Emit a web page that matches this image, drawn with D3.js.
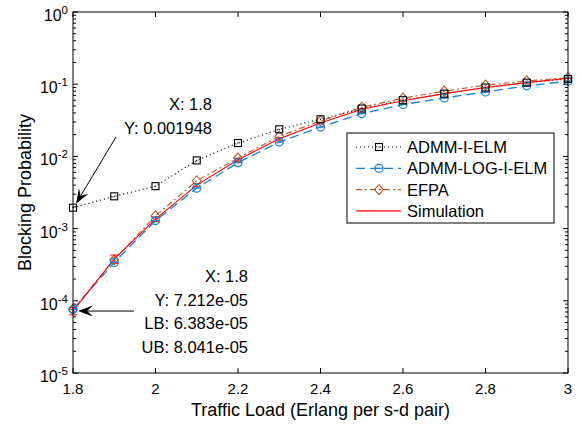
<!DOCTYPE html>
<html lang="en">
<head>
<meta charset="UTF-8">
<title>Blocking Probability</title>
<style>
  * { margin: 0; padding: 0; box-sizing: border-box; }
  body { background: #fff; font-family: "Liberation Sans", Arial, sans-serif; }
  svg text { fill: #000; }
</style>
</head>
<body>
<div id="chart"></div>
<script src="https://d3js.org/d3.v7.min.js"></script>
<script>
// data
var loads = [1.8, 1.9, 2.0, 2.1, 2.2, 2.3, 2.4, 2.5, 2.6, 2.7, 2.8, 2.9, 3.0];
var admmElm = [0.001948, 0.0028, 0.00387, 0.0088, 0.0153, 0.0237, 0.0327, 0.046, 0.060, 0.074, 0.090, 0.105, 0.118];
var admmLogElm = [7.6e-5, 3.4e-4, 1.29e-3, 3.63e-3, 8.2e-3, 0.0158, 0.0255, 0.0392, 0.0523, 0.0645, 0.078, 0.095, 0.110];
var efpa = [7.6e-5, 3.7e-4, 1.5e-3, 4.6e-3, 9.5e-3, 0.019, 0.031, 0.048, 0.064, 0.080, 0.097, 0.111, 0.123];
var simulation = [7.212e-5, 3.8e-4, 1.35e-3, 4.0e-3, 9.0e-3, 0.0175, 0.029, 0.045, 0.059, 0.074, 0.090, 0.105, 0.121];
var simLow = [6.383e-5, 3.3e-4, 1.25e-3, 3.8e-3, 8.6e-3, 0.0169, 0.0283, 0.0442, 0.058, 0.073, 0.089, 0.104, 0.120];
var simHigh = [8.041e-5, 4.3e-4, 1.45e-3, 4.2e-3, 9.4e-3, 0.0181, 0.0297, 0.0458, 0.060, 0.075, 0.091, 0.106, 0.122];
var xTicks = [1.8, 2, 2.2, 2.4, 2.6, 2.8, 3];
var yTicks = [1e-5, 1e-4, 1e-3, 1e-2, 1e-1, 1];
var yExponents = [-5, -4, -3, -2, -1, 0];

var W = 582, H = 424;
var margin = {top: 12, right: 14, bottom: 51, left: 73};
var width = W - margin.left - margin.right;
var height = H - margin.top - margin.bottom;

var svg = d3.select("#chart").append("svg")
    .attr("width", W).attr("height", H)
    .style("font-family", "'Liberation Sans', Arial, sans-serif");

var g = svg.append("g")
    .attr("transform", "translate(" + margin.left + "," + margin.top + ")");

var x = d3.scaleLinear().domain([1.8, 3]).range([0, width]);
var y = d3.scaleLog().domain([1e-5, 1]).range([height, 0]);

// minor log ticks
var minor = [];
for (var e = -5; e < 0; e++) {
  for (var m = 2; m <= 9; m++) minor.push(m * Math.pow(10, e));
}

// ticks (inside, on all four sides)
var tickG = g.append("g").attr("stroke", "#000").attr("stroke-width", 1);
xTicks.forEach(function(t) {
  tickG.append("line").attr("x1", x(t)).attr("x2", x(t)).attr("y1", height).attr("y2", height - 5);
  tickG.append("line").attr("x1", x(t)).attr("x2", x(t)).attr("y1", 0).attr("y2", 5);
});
yTicks.forEach(function(t) {
  tickG.append("line").attr("x1", 0).attr("x2", 5).attr("y1", y(t)).attr("y2", y(t));
  tickG.append("line").attr("x1", width).attr("x2", width - 5).attr("y1", y(t)).attr("y2", y(t));
});
minor.forEach(function(t) {
  tickG.append("line").attr("x1", 0).attr("x2", 3).attr("y1", y(t)).attr("y2", y(t));
  tickG.append("line").attr("x1", width).attr("x2", width - 3).attr("y1", y(t)).attr("y2", y(t));
});

// tick labels
g.selectAll(".xlab").data(xTicks).enter().append("text")
    .attr("x", function(d) { return x(d); })
    .attr("y", height + 21)
    .attr("text-anchor", "middle")
    .style("font-size", "15px")
    .text(function(d) { return d; });

var ylab = g.selectAll(".ylab").data(yTicks).enter().append("text")
    .attr("x", -5)
    .attr("y", function(d) { return y(d) + 9; })
    .attr("text-anchor", "end")
    .style("font-size", "16px");
ylab.append("tspan").text("10");
ylab.append("tspan").attr("dy", -7).style("font-size", "11.5px")
    .text(function(d, i) { return yExponents[i] === 0 ? "0" : "-" + Math.abs(yExponents[i]); });

// axis titles
svg.append("text")
    .attr("x", margin.left + width / 2)
    .attr("y", 416)
    .attr("text-anchor", "middle")
    .style("font-size", "18px")
    .text("Traffic Load (Erlang per s-d pair)");
svg.append("text")
    .attr("transform", "translate(31," + (margin.top + height / 2) + ") rotate(-90)")
    .attr("text-anchor", "middle")
    .style("font-size", "18px")
    .text("Blocking Probability");

// series
var blue = "#1f7fd0", brown = "#b55a2a", red = "#ff0000";
function lineOf(vals) {
  return d3.line()
    .x(function(d, i) { return x(loads[i]); })
    .y(function(d) { return y(d); })(vals);
}

var plot = g.append("g");

// simulation error bars
loads.forEach(function(l, i) {
  var cx = x(l);
  plot.append("line").attr("x1", cx).attr("x2", cx).attr("y1", y(simLow[i])).attr("y2", y(simHigh[i]))
      .attr("stroke", red).attr("stroke-width", 1);
  [simLow[i], simHigh[i]].forEach(function(v) {
    plot.append("line").attr("x1", cx - 4).attr("x2", cx + 4).attr("y1", y(v)).attr("y2", y(v))
        .attr("stroke", red).attr("stroke-width", 1);
  });
});

plot.append("path").attr("d", lineOf(admmElm)).attr("fill", "none")
    .attr("stroke", "#000").attr("stroke-width", 1.2).attr("stroke-dasharray", "1,3");
plot.append("path").attr("d", lineOf(efpa)).attr("fill", "none")
    .attr("stroke", brown).attr("stroke-width", 1.1).attr("stroke-dasharray", "6,3,2,3");
plot.append("path").attr("d", lineOf(admmLogElm)).attr("fill", "none")
    .attr("stroke", blue).attr("stroke-width", 1.3).attr("stroke-dasharray", "9,5");
plot.append("path").attr("d", lineOf(simulation)).attr("fill", "none")
    .attr("stroke", red).attr("stroke-width", 1.1);

function square(sel, cx, cy) {
  sel.append("rect").attr("x", cx - 3.5).attr("y", cy - 3.5).attr("width", 7).attr("height", 7)
      .attr("fill", "none").attr("stroke", "#000").attr("stroke-width", 1.1);
  sel.append("rect").attr("x", cx - 0.6).attr("y", cy - 0.6).attr("width", 1.2).attr("height", 1.2).attr("fill", "#000");
}
function circle(sel, cx, cy) {
  sel.append("circle").attr("cx", cx).attr("cy", cy).attr("r", 4)
      .attr("fill", "none").attr("stroke", blue).attr("stroke-width", 1.2);
  sel.append("line").attr("x1", cx - 4).attr("x2", cx + 4).attr("y1", cy).attr("y2", cy)
      .attr("stroke", blue).attr("stroke-width", 1.2);
}
function diamond(sel, cx, cy) {
  sel.append("path").attr("d", "M" + cx + "," + (cy - 5) + "L" + (cx + 4.5) + "," + cy + "L" + cx + "," + (cy + 5) + "L" + (cx - 4.5) + "," + cy + "Z")
      .attr("fill", "none").attr("stroke", brown).attr("stroke-width", 1.1);
}

loads.forEach(function(l, i) {
  diamond(plot, x(l), y(efpa[i]));
  circle(plot, x(l), y(admmLogElm[i]));
  square(plot, x(l), y(admmElm[i]));
});

// frame
g.append("rect").attr("x", 0).attr("y", 0).attr("width", width).attr("height", height)
    .attr("fill", "none").attr("stroke", "#000").attr("stroke-width", 1);

// data tips
var tips = svg.append("g").style("font-size", "16.5px");
function arrow(x1, y1, x2, y2) {
  var ang = Math.atan2(y2 - y1, x2 - x1), L = 15, wd = 5.5;
  var bx = x2 - L * Math.cos(ang), by = y2 - L * Math.sin(ang);
  var nx = -Math.sin(ang), ny = Math.cos(ang);
  var ix = x2 - L * 0.6 * Math.cos(ang), iy = y2 - L * 0.6 * Math.sin(ang);
  tips.append("line").attr("x1", x1).attr("y1", y1).attr("x2", ix).attr("y2", iy)
      .attr("stroke", "#000").attr("stroke-width", 1);
  tips.append("path")
      .attr("d", "M" + x2 + "," + y2 + "L" + (bx + nx * wd) + "," + (by + ny * wd) + "L" + ix + "," + iy + "L" + (bx - nx * wd) + "," + (by - ny * wd) + "Z")
      .attr("fill", "#000");
}
var tipA = ["X: 1.8", "Y: " + admmElm[0]];
tipA.forEach(function(t, i) {
  tips.append("text").attr("x", 212).attr("y", 110 + i * 24).attr("text-anchor", "end").text(t);
});
arrow(116, 137, margin.left + x(loads[0]) + 3, margin.top + y(admmElm[0]) - 4);

var tipB = ["X: 1.8", "Y: 7.212e-05", "LB: 6.383e-05", "UB: 8.041e-05"];
tipB.forEach(function(t, i) {
  tips.append("text").attr("x", 248).attr("y", 282 + i * 23.5).attr("text-anchor", "end").text(t);
});
arrow(134, margin.top + y(simulation[0]), margin.left + x(loads[0]) + 5, margin.top + y(simulation[0]));

// legend
var leg = svg.append("g").attr("transform", "translate(347,133)");
leg.append("rect").attr("width", 207).attr("height", 90)
    .attr("fill", "#fff").attr("stroke", "#000").attr("stroke-width", 1);
var legItems = [
  {name: "ADMM-I-ELM", color: "#000", dash: "1,3", mark: square},
  {name: "ADMM-LOG-I-ELM", color: blue, dash: "9,5", mark: circle},
  {name: "EFPA", color: brown, dash: "6,3,2,3", mark: diamond},
  {name: "Simulation", color: red, dash: null, mark: null}
];
legItems.forEach(function(d, i) {
  var cy = 14 + i * 21.3;
  var ln = leg.append("line").attr("x1", 9).attr("x2", 54).attr("y1", cy).attr("y2", cy)
      .attr("stroke", d.color).attr("stroke-width", 1.2);
  if (d.dash) ln.attr("stroke-dasharray", d.dash);
  if (d.mark) d.mark(leg, 32, cy);
  leg.append("text").attr("x", 60).attr("y", cy + 6).style("font-size", "16.5px").text(d.name);
});
</script>
</body>
</html>
